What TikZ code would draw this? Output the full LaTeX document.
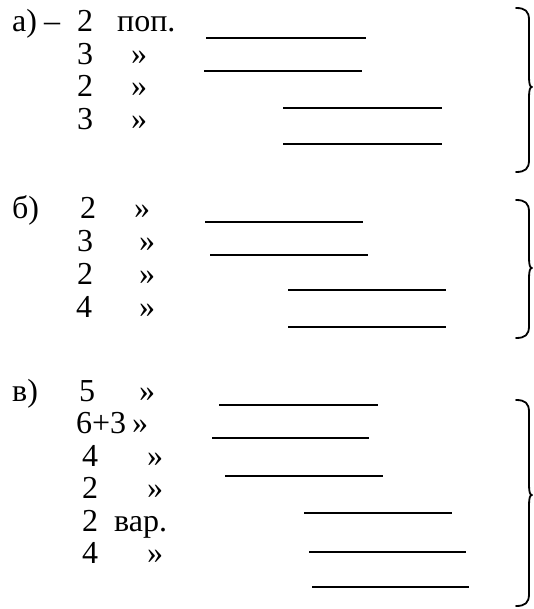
\documentclass[tikz,border=0pt]{standalone}
\usepackage{fontspec}
\setmainfont{Liberation Serif}

% фигурная скобка: верх, острие, низ
\newcommand{\skobka}[3]{%
  \draw[brc] (516,#1) .. controls (525,#1) and (529,#1+3) .. (529,#1+12)
    -- (529,#2-10) .. controls (529,#2-3) and (530,#2) .. (532,#2)
    .. controls (530,#2) and (529,#2+3) .. (529,#2+10)
    -- (529,#3-12) .. controls (529,#3-3) and (525,#3) .. (516,#3);}

\begin{document}
\begin{tikzpicture}[x=1pt, y=-1pt, line cap=butt,
    txt/.style={anchor=base west, inner sep=0pt, font=\fontsize{32}{38}\selectfont},
    uline/.style={line width=1.4pt},
    brc/.style={line width=1.8pt, line cap=round, line join=round}]

    \useasboundingbox (0,0) rectangle (533,609);

    % Группа а)
    \node[txt] (a0) at (12,32) {а)};
    \node[txt] (a0d) at (44,32) {–};
    \node[txt] (a1n) at (77,32) {2};
    \node[txt] (a1t) at (117,32) {поп.};
    \node[txt] (a2n) at (77,64.5) {3};
    \node[txt] (a2t) at (131,64.5) {»};
    \node[txt] (a3n) at (77,97) {2};
    \node[txt] (a3t) at (131,97) {»};
    \node[txt] (a4n) at (77,130) {3};
    \node[txt] (a4t) at (131,130) {»};

    % Линии группы а)
    \draw[uline] (206,38) -- (366,38);
    \draw[uline] (204,71) -- (362,71);
    \draw[uline] (283,108) -- (442,108);
    \draw[uline] (283,144) -- (442,144);
    \skobka{8}{87}{172}

    % Группа б)
    \node[txt] (b0) at (12,219) {б)};
    \node[txt] (b1n) at (80,219) {2};
    \node[txt] (b1t) at (134,219) {»};
    \node[txt] (b2n) at (77,251.5) {3};
    \node[txt] (b2t) at (139,251.5) {»};
    \node[txt] (b3n) at (77,284) {2};
    \node[txt] (b3t) at (139,284) {»};
    \node[txt] (b4n) at (76,317) {4};
    \node[txt] (b4t) at (139,317) {»};

    % Линии группы б)
    \draw[uline] (205,222) -- (363,222);
    \draw[uline] (210,255) -- (368,255);
    \draw[uline] (288,290) -- (446,290);
    \draw[uline] (288,327) -- (446,327);
    \skobka{200}{268}{338}

    % Группа в)
    \node[txt] (c0) at (12,401) {в)};
    \node[txt] (c1n) at (79,401) {5};
    \node[txt] (c1t) at (139,401) {»};
    \node[txt] (c2n) at (76,433.5) {6+3};
    \node[txt] (c2t) at (132,433.5) {»};
    \node[txt] (c3n) at (82,466) {4};
    \node[txt] (c3t) at (147,466) {»};
    \node[txt] (c4n) at (82,498.5) {2};
    \node[txt] (c4t) at (147,498.5) {»};
    \node[txt] (c5n) at (82,531) {2};
    \node[txt] (c5t) at (114,531) {вар.};
    \node[txt] (c6n) at (82,563.5) {4};
    \node[txt] (c6t) at (147,563.5) {»};

    % Линии группы в)
    \draw[uline] (219,405) -- (378,405);
    \draw[uline] (212,438) -- (369,438);
    \draw[uline] (225,476) -- (383,476);
    \draw[uline] (304,513) -- (452,513);
    \draw[uline] (309,552) -- (466,552);
    \draw[uline] (312,587) -- (469,587);
    \skobka{400}{495}{606}

\end{tikzpicture}
\end{document}
